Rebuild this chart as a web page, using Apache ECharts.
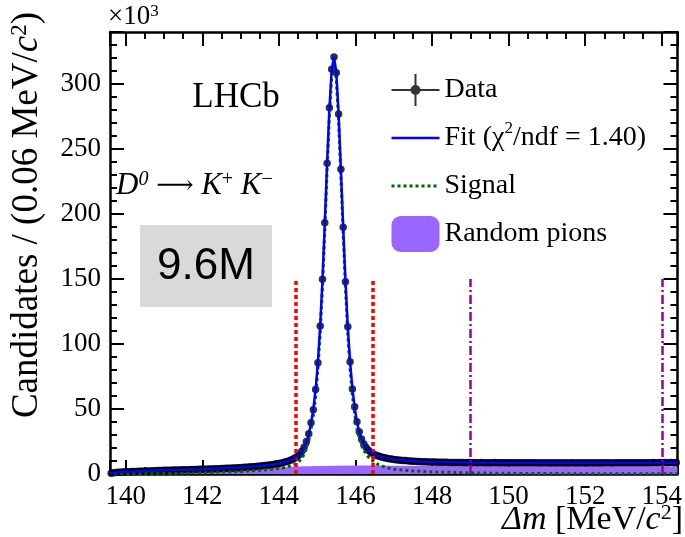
<!DOCTYPE html>
<html><head><meta charset="utf-8">
<script src="https://cdn.jsdelivr.net/npm/echarts@6/dist/echarts.min.js"></script>
<style>html,body{margin:0;padding:0;background:#fff}#c{width:685px;height:537px}</style>
</head><body><div id="c"></div>
<script>
// ---- Data (units of 10^3 candidates per 0.06 MeV/c^2 bin) ----
const binStart = 139.62;   // centre of first bin
const binWidth = 0.06;
const dataValues = [
  0.6, 0.9, 1.1, 1.3, 1.4, 1.5, 1.7, 1.8, 1.8, 1.9,
  2.0, 2.0, 2.1, 2.2, 2.2, 2.3, 2.3, 2.4, 2.5, 2.5,
  2.6, 2.6, 2.7, 2.8, 2.8, 2.9, 2.9, 3.0, 3.0, 3.1,
  3.1, 3.2, 3.2, 3.3, 3.3, 3.4, 3.4, 3.5, 3.6, 3.6,
  3.7, 3.7, 3.8, 3.9, 3.9, 4.0, 4.1, 4.1, 4.2, 4.3,
  4.4, 4.5, 4.5, 4.6, 4.7, 4.8, 4.9, 5.0, 5.1, 5.2,
  5.4, 5.5, 5.6, 5.8, 5.9, 6.1, 6.3, 6.5, 6.7, 6.9,
  7.2, 7.5, 7.8, 8.1, 8.5, 8.9, 9.4, 9.9, 10.6, 11.4,
  12.3, 13.5, 15.0, 17.5, 20.5, 25.0, 31.0, 39.5, 49.5, 65.0,
  85.6, 113.8, 149.8, 193.3, 239.0, 281.8, 311.3, 320.8, 308.7, 276.9,
  234.4, 189.8, 147.9, 113.3, 86.4, 65.4, 51.8, 40.2, 32.5, 27.0,
  23.0, 20.3, 18.3, 16.8, 15.6, 14.7, 14.0, 13.4, 12.9, 12.5,
  12.1, 11.8, 11.5, 11.2, 11.0, 10.8, 10.6, 10.4, 10.3, 10.1,
  10.0, 9.9, 9.8, 9.7, 9.6, 9.5, 9.5, 9.4, 9.3, 9.3,
  9.2, 9.2, 9.1, 9.1, 9.0, 9.0, 9.0, 8.9, 8.9, 8.9,
  8.8, 8.9, 8.8, 8.8, 8.7, 8.8, 8.8, 8.7, 8.8, 8.7,
  8.7, 8.8, 8.7, 8.7, 8.6, 8.7, 8.7, 8.8, 8.7, 8.6,
  8.7, 8.7, 8.6, 8.7, 8.6, 8.7, 8.7, 8.6, 8.6, 8.7,
  8.6, 8.7, 8.6, 8.6, 8.7, 8.6, 8.6, 8.5, 8.6, 8.6,
  8.6, 8.5, 8.6, 8.6, 8.5, 8.6, 8.6, 8.5, 8.6, 8.5,
  8.6, 8.6, 8.5, 8.6, 8.5, 8.6, 8.6, 8.5, 8.6, 8.6,
  8.5, 8.6, 8.6, 8.5, 8.6, 8.7, 8.6, 8.6, 8.5, 8.6,
  8.6, 8.7, 8.6, 8.6, 8.7, 8.6, 8.7, 8.6, 8.7, 8.7,
  8.6, 8.7, 8.7, 8.6, 8.7, 8.7, 8.8, 8.7, 8.7, 8.8,
  8.7, 8.8, 8.7, 8.8, 8.8, 8.7, 8.8
];
const fitX = [139.59, 139.65, 139.8, 140.0, 140.5, 141.0, 141.5, 142.0, 142.5, 143.0, 143.4, 143.7, 143.9,
  144.06, 144.18, 144.30, 144.42, 144.54, 144.66, 144.72, 144.78, 144.84, 144.90, 144.96, 145.02, 145.08,
  145.14, 145.20, 145.26, 145.32, 145.38, 145.44, 145.50, 145.56, 145.62, 145.68, 145.74, 145.80, 145.86,
  145.92, 145.98, 146.04, 146.10, 146.16, 146.22, 146.34, 146.46, 146.6, 146.8, 147.0, 147.3, 147.6,
  148.0, 148.5, 149.0, 150.0, 151.0, 152.0, 153.0, 154.0, 154.41];
const fitY = [0.2, 0.8, 1.3, 1.75, 2.3, 2.8, 3.25, 3.7, 4.25, 5.0, 5.9, 6.8, 7.6,
  8.5, 9.4, 10.6, 12.3, 15.0, 20.0, 24.5, 30.5, 39, 50, 65, 86, 114,
  150, 193, 239, 281, 311, 321, 309, 277, 234, 190, 148, 113, 86,
  66, 51, 40, 32.5, 27, 23, 18.3, 15.6, 13.7, 12.2, 11.2, 10.3, 9.8,
  9.3, 9.0, 8.85, 8.7, 8.65, 8.6, 8.65, 8.7, 8.75];
const sigX = [139.7, 141.0, 142.0, 142.5, 143.0, 143.5, 143.8, 144.0, 144.2, 144.42, 144.54, 144.66, 144.72,
  144.78, 144.84, 144.90, 144.96, 145.02, 145.08, 145.14, 145.20, 145.26, 145.32, 145.38, 145.44, 145.50,
  145.56, 145.62, 145.68, 145.74, 145.80, 145.86, 145.92, 145.98, 146.04, 146.10, 146.16, 146.22, 146.34,
  146.46, 146.6, 146.8, 147.0, 147.5, 148.0, 149.0, 150.0, 152.0, 154.41];
const sigY = [0.0, 0.3, 0.9, 1.4, 2.0, 2.8, 3.5, 4.2, 5.3, 7.5, 10, 15, 19.5,
  25.5, 34, 45, 60, 81, 109, 145, 188, 234, 276, 306, 316, 304,
  272, 229, 185, 143, 108, 81, 61, 46, 35, 27.5, 22, 18, 13,
  9.8, 7.2, 5.0, 3.6, 2.3, 1.6, 0.9, 0.5, 0.2, 0.1];
const rpX = [139.59, 139.7, 140.0, 140.5, 141.0, 141.5, 142.0, 142.5, 143.0, 143.5, 144.0, 144.5, 145.0,
  145.5, 146.0, 146.5, 147.0, 148.0, 150.0, 152.0, 154.41];
const rpY = [0.0, 0.4, 0.9, 1.5, 2.0, 2.5, 3.0, 3.5, 4.0, 4.6, 5.2, 5.8, 6.2,
  6.4, 6.5, 6.5, 6.4, 6.2, 6.0, 5.9, 5.8];
const windowLines = [144.45, 146.45];
const sidebandLines = [149, 154];
const lineTop = 150;

const xMin = 139.59, xMax = 154.41, yMin = 0, yMax = 340;

const pts = dataValues.map((v, i) => [+(binStart + binWidth * i).toFixed(2), v]);
const zip = (a, b) => a.map((x, i) => [x, b[i]]);
const vline = (x) => [{ coord: [x, 0] }, { coord: [x, lineTop] }];

const SERIF = 'Liberation Serif';
const sup = { fontSize: 17, fontFamily: SERIF, verticalAlign: 'top', padding: [0, 0, 10, 0] };

const chart = echarts.init(document.getElementById('c'), null, { renderer: 'canvas' });
const frameAxisCommon = {
  axisLine: { onZero: false, lineStyle: { color: '#000', width: 2.5 } },
  axisTick: { inside: true, length: 14, lineStyle: { color: '#000', width: 2 } },
  minorTick: { show: true, length: 7, lineStyle: { color: '#000', width: 2 } },
  splitLine: { show: false }
};
const intFmt = v => (Math.abs(v - Math.round(v)) < 1e-6 ? String(Math.round(v)) : '');
chart.setOption({
  animation: false,
  backgroundColor: '#fff',
  grid: { left: 110, right: 2, top: 32, bottom: 63 },
  xAxis: [
    Object.assign({ type: 'value', min: xMin, max: xMax, splitNumber: 7, position: 'bottom',
      axisLabel: { color: '#000', fontFamily: SERIF, fontSize: 27, margin: 9, formatter: intFmt } }, frameAxisCommon,
      { minorTick: Object.assign({}, frameAxisCommon.minorTick, { splitNumber: 4 }) }),
    Object.assign({ type: 'value', min: xMin, max: xMax, splitNumber: 7, position: 'top',
      axisLabel: { show: false } }, frameAxisCommon,
      { minorTick: Object.assign({}, frameAxisCommon.minorTick, { splitNumber: 4 }) })
  ],
  yAxis: [
    Object.assign({ type: 'value', min: yMin, max: yMax, interval: 50, position: 'left',
      axisLabel: { color: '#000', fontFamily: SERIF, fontSize: 27, margin: 9,
        formatter: v => (v % 50 === 0 ? String(v) : '') } }, frameAxisCommon,
      { minorTick: Object.assign({}, frameAxisCommon.minorTick, { splitNumber: 5 }) }),
    Object.assign({ type: 'value', min: yMin, max: yMax, interval: 50, position: 'right',
      axisLabel: { show: false } }, frameAxisCommon,
      { minorTick: Object.assign({}, frameAxisCommon.minorTick, { splitNumber: 5 }) })
  ],
  legend: {
    orient: 'vertical', left: 385, top: 67, itemWidth: 48, itemHeight: 36, itemGap: 12,
    textStyle: { fontFamily: SERIF, fontSize: 28, color: '#000', lineHeight: 36,
      rich: { sup: sup } },
    formatter: n => (n === 'Fit' ? 'Fit (χ{sup|2}/ndf = 1.40)' : n),
    selectedMode: false,
    data: [
      { name: 'Data', icon: 'path://M0,17L48,17L48,19L0,19Z M23,2L25,2L25,34L23,34Z M24,13A5,5 0 1,1 24,23A5,5 0 1,1 24,13Z',
        itemStyle: { color: '#000' } },
      { name: 'Fit', itemStyle: { opacity: 0 }, lineStyle: { width: 2.5 } },
      { name: 'Signal', itemStyle: { opacity: 0 }, lineStyle: { width: 3 } },
      { name: 'Random pions', icon: 'roundRect' }
    ]
  },
  series: [
    { name: 'Random pions', type: 'line', data: zip(rpX, rpY), showSymbol: false, symbol: 'none',
      lineStyle: { width: 0, color: '#9966ff' }, itemStyle: { color: '#9966ff' },
      areaStyle: { color: '#9966ff', opacity: 1 }, z: 2 },
    { name: 'Data', type: 'scatter', data: pts, symbol: 'circle', symbolSize: 7.5,
      itemStyle: { color: '#000' }, z: 3 },
    { name: 'Signal', type: 'line', data: zip(sigX, sigY), showSymbol: false, symbol: 'none', smooth: false,
      lineStyle: { color: '#006400', width: 3, type: [3, 3] }, itemStyle: { color: '#006400' }, z: 4 },
    { name: 'Fit', type: 'line', data: zip(fitX, fitY), showSymbol: false, symbol: 'none', smooth: false,
      lineStyle: { color: '#0000ff', width: 2.5 }, itemStyle: { color: '#0000ff' }, z: 5 },
    { name: 'windows', type: 'line', data: [], z: 6,
      markLine: { silent: true, symbol: 'none', label: { show: false },
        data: [
          ...windowLines.map(x => vline(x)).map(d => [
            Object.assign({}, d[0], { lineStyle: { color: '#ff0000', width: 3.5, type: [4, 3] } }), d[1]]),
          ...sidebandLines.map(x => vline(x)).map(d => [
            Object.assign({}, d[0], { lineStyle: { color: '#990099', width: 2.5, type: [9, 3, 2, 3] } }), d[1]])
        ] } }
  ],
  graphic: [
    { type: 'text', x: 108, y: 3, style: { text: '×10{sup|3}', fontFamily: SERIF, fontSize: 27, fill: '#000',
      rich: { sup: { fontSize: 17, fontFamily: SERIF, verticalAlign: 'top', padding: [0, 0, 10, 0] } } } },
    { type: 'text', x: 27, y: 12, rotation: Math.PI / 2,
      style: { text: 'Candidates / (0.06 MeV/{i|c}{sup|2})', fontFamily: SERIF, fontSize: 37, fill: '#000',
        align: 'right', verticalAlign: 'middle',
        rich: { i: { fontStyle: 'italic', fontFamily: SERIF, fontSize: 37 },
                sup: { fontSize: 23, fontFamily: SERIF, verticalAlign: 'top', padding: [0, 0, 15, 0] } } } },
    { type: 'text', x: 683, y: 520,
      style: { text: '{i|Δm} [MeV/{i|c}{sup|2}]', fontFamily: SERIF, fontSize: 34, fill: '#000',
        align: 'right', verticalAlign: 'middle',
        rich: { i: { fontStyle: 'italic', fontFamily: SERIF, fontSize: 34 },
                sup: { fontSize: 22, fontFamily: SERIF, verticalAlign: 'top', padding: [0, 0, 14, 0] } } } },
    { type: 'text', x: 236, y: 98, style: { text: 'LHCb', fontFamily: SERIF, fontSize: 35, fill: '#000',
      align: 'center', verticalAlign: 'middle' } },
    { type: 'text', x: 116, y: 186,
      style: { text: '{i|D}{si|0} {a|⟶} {i|K}{sup|+} {i|K}{sup|−}', fontFamily: SERIF, fontSize: 31, fill: '#000',
        align: 'left', verticalAlign: 'middle',
        rich: { i: { fontStyle: 'italic', fontFamily: SERIF, fontSize: 31 },
                a: { fontFamily: 'DejaVu Serif', fontSize: 26 },
                si: { fontStyle: 'italic', fontSize: 20, fontFamily: SERIF, verticalAlign: 'top', padding: [0, 0, 12, 0] },
                sup: { fontSize: 20, fontFamily: SERIF, verticalAlign: 'top', padding: [0, 0, 12, 0] } } } },
    { type: 'rect', shape: { x: 140, y: 225, width: 132, height: 82 }, style: { fill: '#d9d9d9' } },
    { type: 'text', x: 206, y: 267, style: { text: '9.6M', fontFamily: 'Liberation Sans', fontSize: 44, fill: '#000',
      align: 'center', verticalAlign: 'middle' } }
  ]
});
</script>
</body></html>
